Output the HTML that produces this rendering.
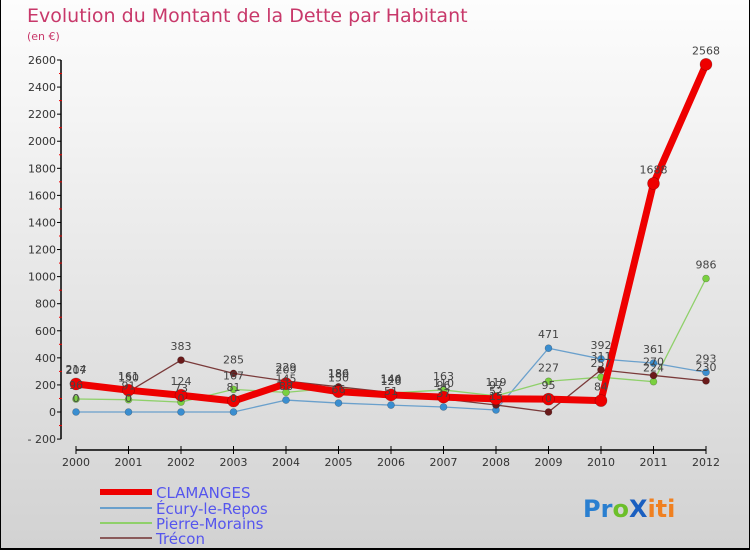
<!DOCTYPE html>
<html><head><meta charset="utf-8"><style>
body{margin:0}
#c{width:750px;height:550px;position:relative;background:linear-gradient(#fdfdfd,#d2d2d2);font-family:"DejaVu Sans","Liberation Sans",sans-serif;overflow:hidden;box-sizing:border-box;border:1px solid #000;border-top:none;border-bottom:2px solid #000}
svg text{font-family:"DejaVu Sans","Liberation Sans",sans-serif}
</style></head><body>
<div id="c">
<svg id="s" width="750" height="550">
<text x="26" y="22" font-size="19" fill="#c8386a">Evolution du Montant de la Dette par Habitant</text>
<text x="26" y="40" font-size="11" fill="#c8386a">(en €)</text>
<g id="ax"></g><g id="series"></g><g id="labels"></g>
<g>
<rect x="99" y="489" width="52" height="6" fill="#e00"/>
<text x="155" y="498" font-size="15" fill="#5555ee">CLAMANGES</text>
<line x1="99" y1="508" x2="151" y2="508" stroke="#6aa0cc" stroke-width="2"/>
<text x="155" y="514" font-size="15" fill="#5555ee">Écury-le-Repos</text>
<line x1="99" y1="523" x2="151" y2="523" stroke="#8fd06a" stroke-width="2"/>
<text x="155" y="529" font-size="15" fill="#5555ee">Pierre-Morains</text>
<line x1="99" y1="538" x2="151" y2="538" stroke="#8a5a5a" stroke-width="2"/>
<text x="155" y="544" font-size="15" fill="#5555ee">Trécon</text>
</g>
<text x="582" y="517" font-size="24" font-weight="bold"><tspan fill="#2a7fd0">Pr</tspan><tspan fill="#6cbf2a">o</tspan><tspan fill="#1a5fc0">X</tspan><tspan fill="#f08020">iti</tspan></text>
</svg>
</div>
<script>
const years=[2000,2001,2002,2003,2004,2005,2006,2007,2008,2009,2010,2011,2012];
const yTicks=[-200,0,200,400,600,800,1000,1200,1400,1600,1800,2000,2200,2400,2600];
const clamanges=[207,161,124,81,209,150,126,110,97,95,84,1688,2568];
const ecury=[0,0,0,0,88,66,51,37,15,471,392,361,293];
const pierre=[96,91,73,167,145,180,140,163,119,227,257,224,986];
const trecon=[214,150,383,285,229,186,144,96,52,0,311,270,230];
const NS='http://www.w3.org/2000/svg';
const X=i=>75+i*52.5;
const Y=v=>412-v*352/2600;
function mk(tag,attrs,parent,txt){const e=document.createElementNS(NS,tag);for(const k in attrs)e.setAttribute(k,attrs[k]);if(txt!==undefined)e.textContent=txt;parent.appendChild(e);return e;}
const ax=document.getElementById('ax');
let l=mk('line',{x1:60,y1:Y(2600),x2:60,y2:Y(-200),stroke:'#000','stroke-width':1.5},ax);


yTicks.forEach(v=>{
  let t=mk('line',{x1:56,y1:Y(v),x2:60,y2:Y(v),stroke:'#000'},ax);
  
  
  if(v<2600){let m=mk('line',{x1:58,y1:Y(v+100),x2:61,y2:Y(v+100),stroke:'#e00'},ax);
  
  }
  let tx=mk('text',{x:55,y:Y(v)+4,'font-size':11,'text-anchor':'end',fill:'#333'},ax,v<0?'- '+(-v):String(v));
  
  
});
l=mk('line',{x1:X(0),y1:450,x2:X(12),y2:450,stroke:'#000','stroke-width':1.5},ax);


years.forEach((yr,i)=>{
  let t=mk('line',{x1:X(i),y1:446,x2:X(i),y2:454,stroke:'#000'},ax);
  
  
  let tx=mk('text',{x:X(i),y:466,'font-size':11,'text-anchor':'middle',fill:'#333'},ax,String(yr));
  
  
});
const sg=document.getElementById('series'),lg=document.getElementById('labels');
function draw(vals,color,w,r,ptc,name){
  const pts=vals.map((v,i)=>X(i)+','+Y(v)).join(' ');
  let p=mk('polyline',{points:pts,fill:'none',stroke:color,'stroke-width':w,'stroke-linejoin':'round'},sg);
  
  
  vals.forEach((v,i)=>{
    let c=mk('circle',{cx:X(i),cy:Y(v),r:r,fill:ptc,stroke:'rgba(0,0,0,0.3)','stroke-width':0.6},sg);
    
    
    let t=mk('text',{x:X(i),y:Y(v)-10,'font-size':11,'text-anchor':'middle',fill:'#444'},lg,String(v));
    
    
  });
}
draw(ecury,'#6aa0cc',1.3,3.5,'#3a8ed0','ecury');
draw(pierre,'#8fd06a',1.3,3.5,'#7ad040','pierre');
draw(trecon,'#7a3a3a',1.3,3.5,'#6a1a1a','trecon');
draw(clamanges,'#ee0000',7,6,'#ee0000','clamanges');
</script>
</body></html>
